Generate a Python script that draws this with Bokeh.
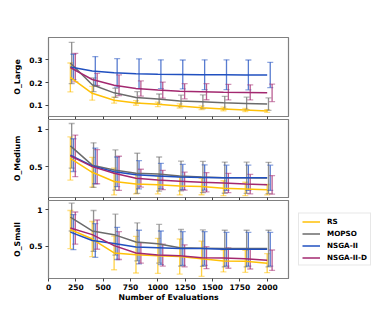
from bokeh.plotting import figure
from bokeh.layouts import column
from bokeh.models import (ColumnDataSource, Whisker, Range1d, FixedTicker, Legend, LegendItem,
                          TeeHead, CustomLabelingPolicy)
from bokeh.transform import dodge
from bokeh.embed import file_html
from bokeh.resources import INLINE

evals = [200, 400, 600, 800, 1000, 1200, 1400, 1600, 1800, 2000]
methods = ["RS", "MOPSO", "NSGA-II", "NSGA-II-D"]
colors = ["#FFC107", "#6b6b6b", "#2050c0", "#a3286f"]
offsets = [0, 12, 28, 45]

# O_Large
large_mean = {
    "RS":        [0.222, 0.153, 0.123, 0.111, 0.105, 0.098, 0.090, 0.085, 0.080, 0.076],
    "MOPSO":     [0.285, 0.190, 0.155, 0.135, 0.128, 0.120, 0.116, 0.112, 0.109, 0.106],
    "NSGA-II":   [0.268, 0.250, 0.242, 0.238, 0.236, 0.235, 0.234, 0.234, 0.233, 0.233],
    "NSGA-II-D": [0.265, 0.213, 0.188, 0.174, 0.167, 0.162, 0.160, 0.158, 0.157, 0.155],
}
large_err = {
    "RS":        [0.063, 0.030, 0.013, 0.010, 0.010, 0.009, 0.008, 0.008, 0.007, 0.006],
    "MOPSO":     [0.090, 0.030, 0.020, 0.025, 0.022, 0.025, 0.030, 0.028, 0.027, 0.027],
    "NSGA-II":   [0.055, 0.063, 0.062, 0.065, 0.063, 0.063, 0.065, 0.065, 0.065, 0.055],
    "NSGA-II-D": [0.062, 0.027, 0.045, 0.033, 0.035, 0.033, 0.035, 0.034, 0.033, 0.038],
}
# O_Medium
medium_mean = {
    "RS":        [0.610, 0.424, 0.300, 0.268, 0.255, 0.240, 0.232, 0.210, 0.200, 0.190],
    "MOPSO":     [0.780, 0.520, 0.455, 0.410, 0.400, 0.375, 0.360, 0.352, 0.350, 0.348],
    "NSGA-II":   [0.655, 0.510, 0.430, 0.390, 0.375, 0.360, 0.355, 0.350, 0.350, 0.350],
    "NSGA-II-D": [0.645, 0.500, 0.410, 0.345, 0.320, 0.305, 0.290, 0.280, 0.265, 0.255],
}
medium_err = {
    "RS":        [0.290, 0.200, 0.180, 0.135, 0.120, 0.120, 0.110, 0.100, 0.090, 0.070],
    "MOPSO":     [0.300, 0.300, 0.270, 0.270, 0.230, 0.200, 0.210, 0.210, 0.210, 0.210],
    "NSGA-II":   [0.220, 0.240, 0.200, 0.190, 0.170, 0.170, 0.170, 0.170, 0.170, 0.170],
    "NSGA-II-D": [0.280, 0.230, 0.230, 0.120, 0.130, 0.120, 0.130, 0.130, 0.130, 0.125],
}
# O_Small
small_mean = {
    "RS":        [0.730, 0.600, 0.410, 0.385, 0.370, 0.360, 0.330, 0.300, 0.295, 0.270],
    "MOPSO":     [0.900, 0.710, 0.660, 0.560, 0.535, 0.480, 0.475, 0.470, 0.470, 0.470],
    "NSGA-II":   [0.695, 0.580, 0.540, 0.490, 0.480, 0.470, 0.470, 0.460, 0.460, 0.460],
    "NSGA-II-D": [0.750, 0.660, 0.510, 0.410, 0.380, 0.370, 0.345, 0.340, 0.330, 0.310],
}
small_err = {
    "RS":        [0.260, 0.240, 0.230, 0.250, 0.240, 0.240, 0.240, 0.150, 0.150, 0.130],
    "MOPSO":     [0.190, 0.280, 0.280, 0.260, 0.265, 0.250, 0.250, 0.250, 0.250, 0.250],
    "NSGA-II":   [0.240, 0.230, 0.220, 0.230, 0.230, 0.230, 0.230, 0.230, 0.230, 0.230],
    "NSGA-II-D": [0.220, 0.200, 0.190, 0.140, 0.150, 0.150, 0.150, 0.140, 0.140, 0.140],
}

panels = [
    ("O_Large", large_mean, large_err, (0.052, 0.396), [0.1, 0.2, 0.3]),
    ("O_Medium", medium_mean, medium_err, (0.085, 1.134), [0.5, 1.0]),
    ("O_Small", small_mean, small_err, (0.06, 1.127), [0.5, 1.0]),
]
x_ticks = [0, 250, 500, 750, 1000, 1250, 1500, 1750, 2000]
x_lim = (0, 2195)

FONT = "DejaVu Sans"
figs = []
legend_items = []
for i, (ylabel, means, errs, ylim, yticks) in enumerate(panels):
    last = i == len(panels) - 1
    p = figure(frame_width=240, frame_height=79 if i == 0 else 78,
               x_range=Range1d(*x_lim), y_range=Range1d(*ylim),
               output_backend="svg", toolbar_location=None,
               min_border_left=48, min_border_right=8 if last else 89,
               min_border_top=37 if i == 0 else 0,
               min_border_bottom=0)
    p.grid.visible = False
    p.outline_line_color = "#808080"
    p.outline_line_width = 1.2
    for ax in (p.xaxis[0], p.yaxis[0]):
        ax.axis_line_color = "#808080"
        ax.major_tick_line_color = "#444444"
        ax.minor_tick_line_color = None
        ax.major_tick_out = 3
        ax.major_tick_in = 0
        ax.major_label_text_font = FONT
        ax.major_label_text_font_style = "bold"
        ax.major_label_text_font_size = "7.5px"
        ax.major_label_text_color = "black"
        ax.axis_label_text_font = FONT
        ax.axis_label_text_font_style = "bold"
        ax.axis_label_text_font_size = "7.8px"
        ax.axis_label_text_color = "black"
    p.yaxis.ticker = FixedTicker(ticks=yticks)
    p.xaxis.ticker = FixedTicker(ticks=x_ticks)
    p.yaxis.axis_label = ylabel
    p.yaxis.major_label_standoff = 3
    p.yaxis.axis_label_standoff = 4
    if last:
        p.xaxis.axis_label = "Number of Evaluations"
        p.xaxis.major_label_standoff = 2
        p.xaxis.axis_label_standoff = 0
    else:
        # tick marks only, no tick labels (shared x axis)
        p.xaxis.major_label_policy = CustomLabelingPolicy(code="const result = new Set()\nreturn result")
        p.xaxis.major_label_text_font_size = "0px"
        p.xaxis.major_label_standoff = 0

    for m, c, off in zip(methods, colors, offsets):
        src = ColumnDataSource(dict(
            x=evals, y=means[m],
            lo=[a - b for a, b in zip(means[m], errs[m])],
            hi=[a + b for a, b in zip(means[m], errs[m])],
        ))
        r = p.line("x", "y", source=src, line_color=c, line_width=1.5)
        w = Whisker(source=src, base=dodge("x", off, range=p.x_range), upper="hi", lower="lo",
                    line_color=c, line_width=1.3, line_alpha=0.75,
                    upper_head=TeeHead(size=6, line_color=c, line_alpha=0.5, line_width=1.3),
                    lower_head=TeeHead(size=6, line_color=c, line_alpha=0.5, line_width=1.3))
        p.add_layout(w)
        if last:
            legend_items.append(LegendItem(label=m, renderers=[r]))
    if last:
        leg = Legend(items=legend_items, location="left")
        leg.label_text_font = FONT
        leg.label_text_font_style = "bold"
        leg.label_text_font_size = "7.2px"
        leg.label_text_color = "black"
        leg.glyph_width = 18
        leg.glyph_height = 8
        leg.label_height = 8
        leg.spacing = 3
        leg.padding = 3
        leg.margin = 10
        leg.label_standoff = 7
        leg.border_line_color = "#d0d0d0"
        leg.border_line_width = 1
        leg.background_fill_alpha = 1
        p.add_layout(leg, "right")
    figs.append(p)

layout = column(*figs, spacing=0)
open("out.html", "w").write(file_html(layout, INLINE))
